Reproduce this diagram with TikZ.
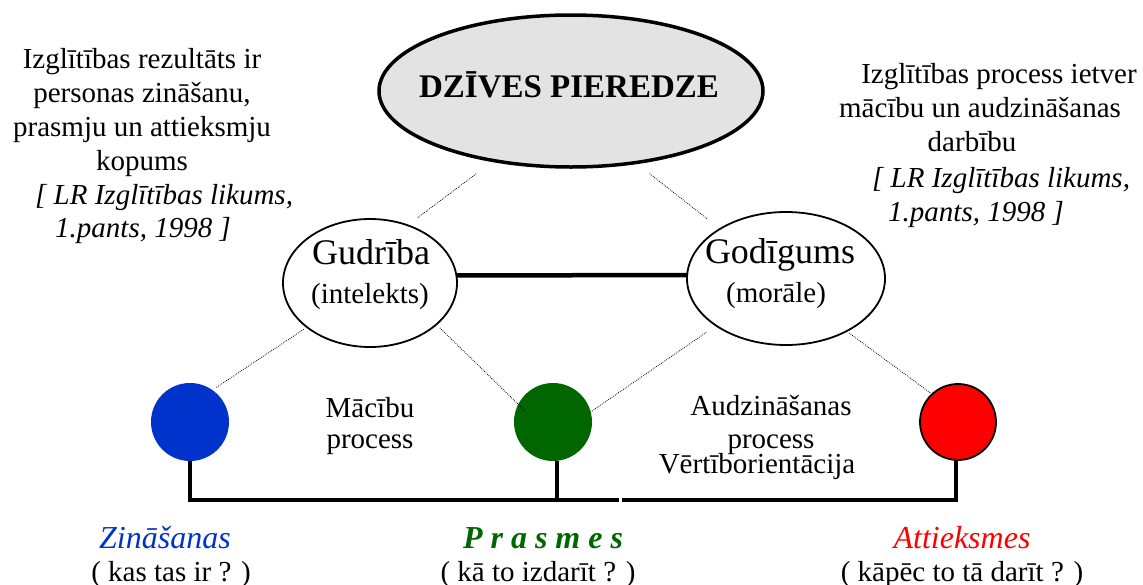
\documentclass[tikz,border=0pt]{standalone}
\usepackage{fontspec}
\setmainfont{Liberation Serif}
\usetikzlibrary{shapes.geometric}
\definecolor{zinblue}{HTML}{0033CC}
\definecolor{pragreen}{HTML}{006600}
\definecolor{attred}{HTML}{FF0000}
\definecolor{lifegray}{HTML}{E3E3E3}
\tikzset{
    life oval/.style = {
        ellipse, draw, fill=lifegray,
        line width=3.5pt,
        minimum width=384pt, minimum height=152pt,
        inner sep=0pt, outer sep=0pt,
        },
    trait oval/.style = {
        ellipse, draw,
        line width=1.8pt,
        inner sep=0pt, outer sep=0pt,
        },
    ball/.style = {
        circle, minimum size=78pt,
        inner sep=0pt, outer sep=0pt,
        },
    txt/.style = {
        inner sep=0pt, anchor=base,
        font=\fontsize{29}{34}\selectfont,
        },
    law/.style = {
        inner sep=0pt, anchor=base west,
        font=\fontsize{29}{34}\selectfont\itshape,
        },
    trait name/.style = {
        inner sep=0pt, anchor=base,
        font=\fontsize{36}{40}\selectfont,
        },
    kind name/.style = {
        inner sep=0pt, anchor=base,
        font=\fontsize{32}{36}\selectfont\itshape,
        },
    hint/.style = {
        line width=0.8pt,
        dash pattern=on 0.8pt off 1.2pt,
        },
    bond/.style = {
        line width=4.5pt,
        },
    bus/.style = {
        line width=4pt,
        },
}

\begin{document}
\begin{tikzpicture}[x=1pt, y=-1pt]
    \useasboundingbox (0,0) rectangle (1143,584);

    % ovals
    \node [life oval] (life) at (571,91) {};
    \node [trait name, font=\fontsize{33}{38}\selectfont\bfseries] (lifeT) at (569,97) {DZĪVES PIEREDZE};

    \node [trait oval, minimum width=174pt, minimum height=128pt] (gud) at (370,283) {};
    \node [trait oval, minimum width=198pt, minimum height=133pt] (god) at (786,278.5) {};
    \node [trait name] (gudT) at (371,264) {Gudrība};
    \node [txt] (gudS) at (370,303) {(intelekts)};
    \node [trait name] (godT) at (780,263) {Godīgums};
    \node [txt] (godS) at (776,302) {(morāle)};

    \draw [bond] (gud.5) -- (god.178);

    % balls
    \node [ball, fill=zinblue] (zin) at (190,422) {};
    \node [ball, fill=pragreen] (pra) at (553,422) {};
    \node [ball, fill=attred, draw, line width=1.8pt, minimum size=76pt] (att) at (958,422) {};

    % dotted links
    \draw [hint, shorten <=22pt, shorten >=12pt] (life.222) -- (gud.57);
    \draw [hint, shorten <=18pt, shorten >=16pt] (life.312) -- (god.143);
    \draw [hint, shorten <=4pt, shorten >=4pt] (gud.215) -- (zin.55);
    \draw [hint, shorten <=5pt, shorten >=-10pt] (gud.328) -- (pra.153);
    \draw [hint, shorten <=12pt] (god.214) -- (pra.15);
    \draw [hint, shorten <=3pt, shorten >=2pt] (god.319) -- (att.133);

    % bus
    \coordinate (gap) at (620,500);
    \draw [bus] (zin.south) |- ([xshift=-1.5pt]gap);
    \draw [bus] ([xshift=4pt]pra.south) -- ([xshift=4pt]pra.south |- gap);
    \draw [bus] ([xshift=1.5pt]gap) -| ([xshift=-2pt]att.south);

    % left note
    \node [txt] (l1) at (142,68) {Izglītības rezultāts ir};
    \node [txt] (l2) at (142,102) {personas zināšanu,};
    \node [txt] (l3) at (142,136) {prasmju un attieksmju};
    \node [txt] (l4) at (142,170) {kopums};
    \node [law] (l5) at (35,204) {[ LR Izglītības likums,};
    \node [law] (l6) at (55,237) {1.pants, 1998 ]};

    % right note
    \node [txt] (r1) at (999,83) {Izglītības process ietver};
    \node [txt] (r2) at (980,117) {mācību un audzināšanas};
    \node [txt] (r3) at (972,151) {darbību};
    \node [law] (r4) at (872,187) {[ LR Izglītības likums,};
    \node [law] (r5) at (888,221) {1.pants, 1998 ]};

    % processes
    \node [txt] (m1) at (370,417) {Mācību};
    \node [txt] (m2) at (370,448) {process};
    \node [txt] (a1) at (771,415) {Audzināšanas};
    \node [txt] (a2) at (771,448) {process};
    \node [txt] (a3) at (757,473) {Vērtīborientācija};

    % kinds
    \node [kind name, text=zinblue] (zinT) at (165,548) {Zināšanas};
    \node [txt] (zinQ) at (171,581) {( kas tas ir ? )};
    \node [kind name, text=pragreen, font=\fontsize{32}{36}\selectfont\bfseries\itshape] (praT) at (543,548) {P r a s m e s};
    \node [txt] (praQ) at (538,581) {( kā to izdarīt ? )};
    \node [kind name, text=attred] (attT) at (962,548) {Attieksmes};
    \node [txt] (attQ) at (962,581) {( kāpēc to tā darīt ? )};
\end{tikzpicture}
\end{document}
